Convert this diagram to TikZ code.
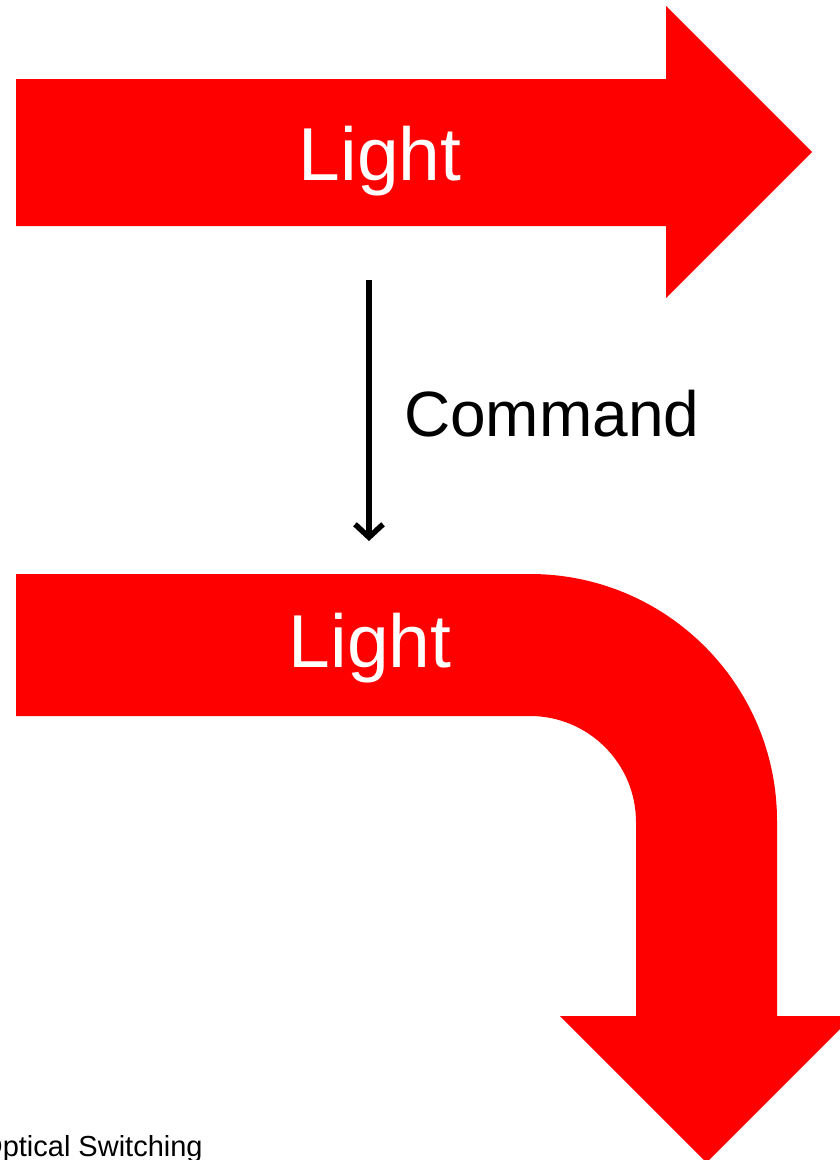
\documentclass[tikz,border=0pt]{standalone}
\usepackage{fontspec}
\setmainfont{Liberation Sans}
\usetikzlibrary{arrows.meta}
\definecolor{beamred}{HTML}{FF0000}
\tikzset{
  beam/.style={fill=beamred, draw=none},
  beamlabel/.style={text=white, inner sep=0pt, anchor=base, font=\fontsize{75}{90}\selectfont},
  cmdlabel/.style={text=black, inner sep=0pt, anchor=base west, font=\fontsize{64}{77}\selectfont},
  footlabel/.style={text=black, inner sep=0pt, anchor=base west, font=\fontsize{29}{35}\selectfont},
  cmdarrow/.style={draw=black, line width=5.5pt, -{Straight Barb[length=13pt,width=28pt,line width=5.5pt]}}
}
\begin{document}
\begin{tikzpicture}[x=1pt,y=-1pt]
\useasboundingbox (0,0) rectangle (840,1160);
\clip (0,0) rectangle (840,1160);
% top straight arrow
\path[beam] (16,79) -- (666,79) -- (666,6) -- (812,152) -- (666,298) -- (666,226) -- (16,226) -- cycle;
% bottom bent arrow
\path[beam] (16,574) -- (530,574) arc[start angle=-90,end angle=0,radius=247]
  -- (777,1016) -- (853,1016) -- (706.5,1162.5) -- (560,1016) -- (636,1016) -- (636,822)
  arc[start angle=0,end angle=-90,radius=106] -- (16,716) -- cycle;
\node[beamlabel] (light1) at (380,180) {Light};
\node[beamlabel] (light2) at (370,667) {Light};
\node[cmdlabel] (command) at (404,436) {Command};
\node[footlabel] (foot) at (-20,1156) {Optical Switching};
\coordinate (cmdstart) at (369,280);
\coordinate (cmdend) at (369,541);
\draw[cmdarrow] (cmdstart) -- (cmdend);
\end{tikzpicture}
\end{document}
